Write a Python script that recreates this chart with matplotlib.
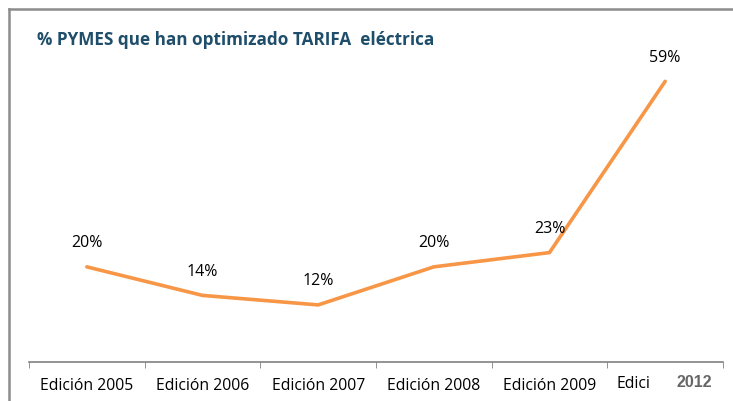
import matplotlib.pyplot as plt
import matplotlib.lines as mlines
import numpy as np

categories = ['Edición 2005', 'Edición 2006', 'Edición 2007', 'Edición 2008', 'Edición 2009', 'Edici']
values = [20, 14, 12, 20, 23, 59]
labels = ['20%', '14%', '12%', '20%', '23%', '59%']

plt.rcParams['font.family'] = ['Open Sans', 'DejaVu Sans']

fig = plt.figure(figsize=(7.33, 4.02), dpi=100)
W, H = 733, 402

# outer gray frame (left and top edges)
fig.add_artist(mlines.Line2D([9 / W, 9 / W], [0, 1 - 10 / H], color='#8c8c8c', lw=1.8))
fig.add_artist(mlines.Line2D([9 / W, 1], [1 - 10 / H, 1 - 10 / H], color='#8c8c8c', lw=1.8))

ax = fig.add_axes([29 / W, 1 - 363 / H, 694 / W, 333 / H])
x = np.arange(len(categories))
ax.plot(x, values, color='#F79646', lw=2.6, solid_capstyle='round')

for xi, v, lab in zip(x, values, labels):
    ax.annotate(lab, (xi, v), xytext=(0, 12), textcoords='offset points',
                ha='center', va='bottom', fontsize=11.5, color='black')

ax.set_xlim(-0.5, len(categories) - 0.5)
ax.set_ylim(0, 70)
ax.set_xticks(x)
ax.set_xticklabels(categories[:-1] + [''], fontsize=11.3)
ax.set_xticks(np.arange(-0.5, len(categories), 1), minor=True)
ax.tick_params(axis='x', which='major', length=0, pad=11)
ax.tick_params(axis='x', which='minor', length=4, color='#808080', direction='out')
ax.set_yticks([])
for s in ['top', 'right', 'left']:
    ax.spines[s].set_visible(False)
ax.spines['bottom'].set_color('#808080')
ax.spines['bottom'].set_linewidth(1.2)

# clipped last category label as it appears in the original
fig.text(617 / W, 1 - 384 / H, categories[-1], ha='left', va='center', fontsize=11.3)
fig.text(694 / W, 1 - 383 / H, '2012', ha='center', va='center', fontsize=11.5,
         color='#666666', fontweight='bold', family=['Liberation Sans', 'DejaVu Sans'])

fig.text(37 / W, 1 - 40 / H, '% PYMES que han optimizado TARIFA  eléctrica',
         ha='left', va='center', fontsize=12.3, fontweight='bold', color='#1F4E6B')

fig.savefig('out.png', dpi=100)
